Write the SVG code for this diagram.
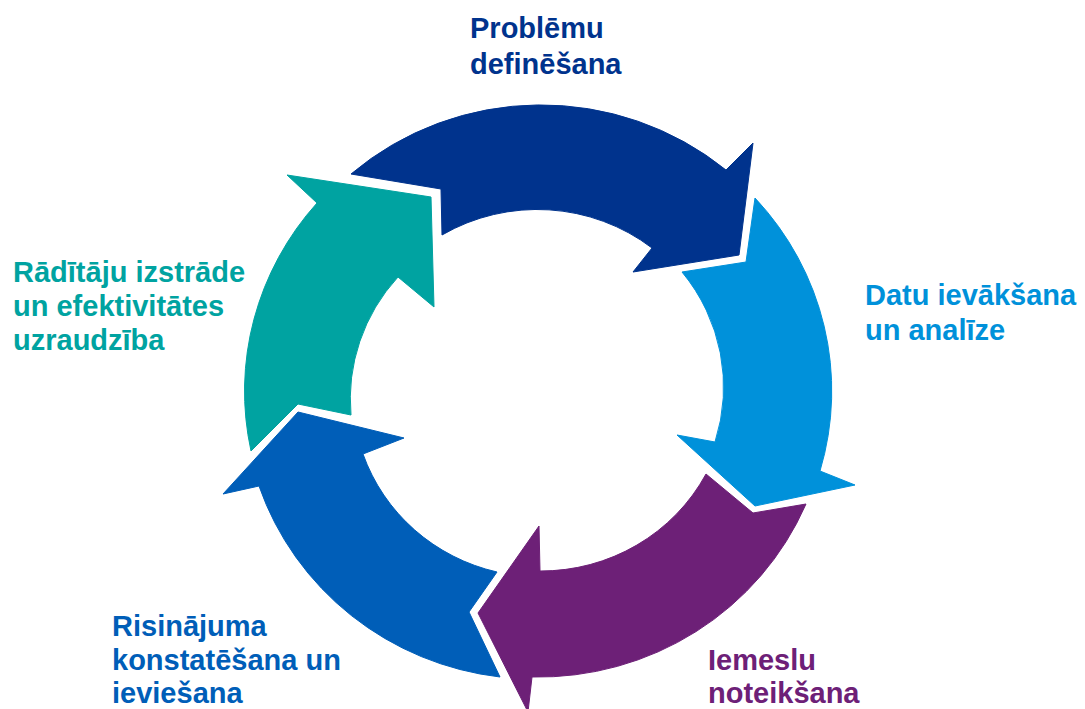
<svg xmlns="http://www.w3.org/2000/svg" width="1085" height="709" viewBox="0 0 1085 709">
<style>
.lbl{font-family:"Liberation Sans",Arial,sans-serif;font-weight:bold;font-size:29px}
.arr{stroke-linejoin:round;stroke-width:1}
</style>
<rect width="1085" height="709" fill="#ffffff"/>
<g id="connectors">
<path id="arrow-define" class="arr" fill="#00338D" stroke="#00338D" d="M351,174 A291,285 0 0,1 726,170 L753,143 L739,255 L633,272 L652,248 A187,183 0 0,0 442,235 L441,189 Z"/>
<path id="arrow-data" class="arr" fill="#0091DA" stroke="#0091DA" d="M755,198 A291,285 0 0,1 820,471 L855,485 L755,506 L677,435 L715,442 A187,183 0 0,0 682,272 L746,262 Z"/>
<path id="arrow-cause" class="arr" fill="#6D2077" stroke="#6D2077" d="M806,504 A291,285 0 0,1 532,677 L528,712 L478,613 L539,526 L540,571 A187,183 0 0,0 706,474 L753,513 Z"/>
<path id="arrow-solution" class="arr" fill="#005EB8" stroke="#005EB8" d="M500,677 A291,285 0 0,1 259,486 L223,494 L298,412 L404,438 L363,454 A187,183 0 0,0 497,572 L469,612 Z"/>
<path id="arrow-kpi" class="arr" fill="#00A3A1" stroke="#00A3A1" d="M251,451 A291,285 0 0,1 317,203 L287,175 L431,197 L434,307 L398,277 A187,183 0 0,0 351,415 L298,404 Z"/>
</g>
<g id="node-define">
<text class="lbl" fill="#00338D" x="470" y="38">Problēmu</text>
<text class="lbl" fill="#00338D" x="470" y="74">definēšana</text>
</g>
<g id="node-data">
<text class="lbl" fill="#0091DA" x="865" y="305">Datu ievākšana</text>
<text class="lbl" fill="#0091DA" x="865" y="340">un analīze</text>
</g>
<g id="node-cause">
<text class="lbl" fill="#6D2077" x="708" y="670">Iemeslu</text>
<text class="lbl" fill="#6D2077" x="708" y="703">noteikšana</text>
</g>
<g id="node-solution">
<text class="lbl" fill="#005EB8" x="112" y="636">Risinājuma</text>
<text class="lbl" fill="#005EB8" x="112" y="670">konstatēšana un</text>
<text class="lbl" fill="#005EB8" x="112" y="703">ieviešana</text>
</g>
<g id="node-kpi">
<text class="lbl" fill="#00A3A1" x="13" y="282">Rādītāju izstrāde</text>
<text class="lbl" fill="#00A3A1" x="13" y="316">un efektivitātes</text>
<text class="lbl" fill="#00A3A1" x="13" y="350">uzraudzība</text>
</g>
</svg>
